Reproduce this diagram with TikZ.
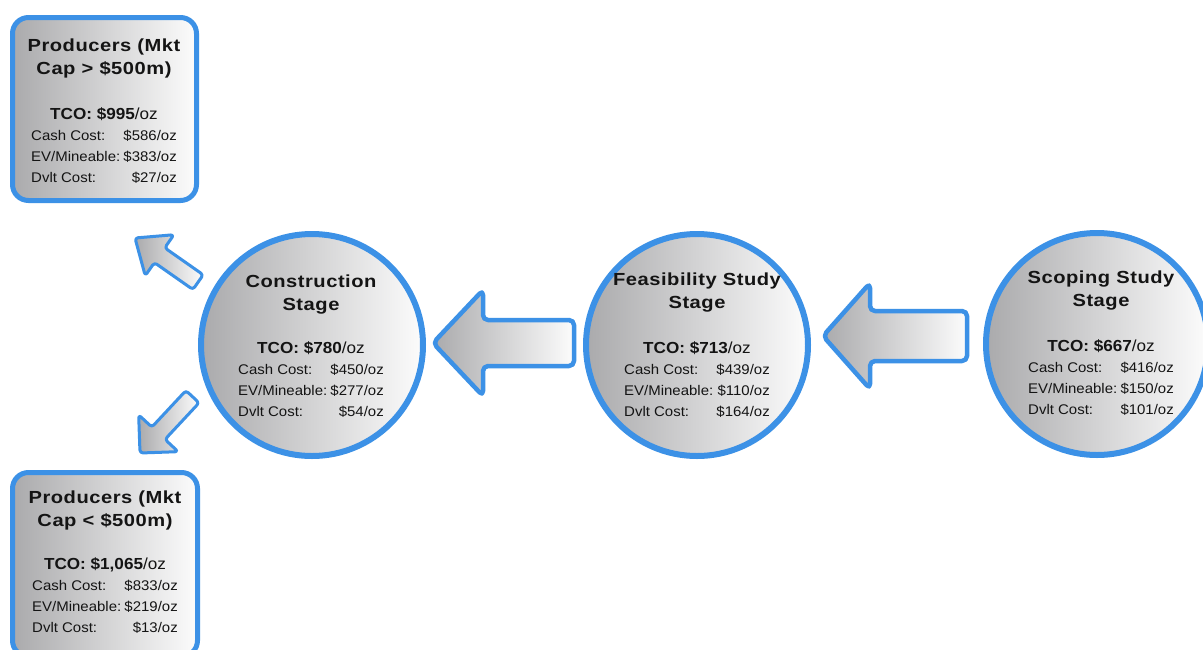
\documentclass[tikz,border=0pt]{standalone}
\usepackage{fontspec}
\setmainfont{Liberation Sans}
\newfontfamily\titlef{Liberation Sans}[FakeStretch=1.15,LetterSpace=3]
\newfontfamily\bodyf{Liberation Sans}[FakeStretch=1.07]
\usetikzlibrary{calc}
\definecolor{ringblue}{RGB}{60,145,230}
\definecolor{shadeL}{RGB}{170,170,172}
\definecolor{shadeR}{RGB}{252,252,252}
\definecolor{txt}{RGB}{20,20,20}
\tikzset{
  fillshade/.style={left color=shadeL, right color=shadeR},
  stagecircle/.style={circle, draw=ringblue, line width=6pt, fillshade, minimum size=222pt, inner sep=0pt},
  infobox/.style={rectangle, draw=ringblue, line width=5pt, fillshade, rounded corners=16pt, inner sep=0pt},
  blockarrow/.style={draw=ringblue, line width=4.5pt, fillshade, rounded corners=5pt, line join=round},
  smallarrow/.style={blockarrow, line width=3pt, rounded corners=3pt},
  ttl/.style={inner sep=0pt, text=txt, font=\titlef\bfseries\fontsize{17.5}{21}\selectfont},
  tco/.style={inner sep=0pt, text=txt, font=\bodyf\bfseries\fontsize{16}{19}\selectfont},
  body/.style={inner sep=0pt, text=txt, font=\bodyf\fontsize{14}{17}\selectfont},
  pics/fatarrow/.style args={#1/#2/#3/#4/#5}{code={
    \path[#5] (0,0) -- (#2,#3) -- (#2,#4) -- (#1,#4) -- (#1,-#4) -- (#2,-#4) -- (#2,-#3) -- cycle;}},
}
\newcommand\titlelines[5]{%
  \node[ttl, anchor=base] (#1-t1) at (#2, #3+6) {#4};
  \node[ttl, anchor=base] (#1-t2) at (#2, #3+29) {#5};}
\newcommand\costlines[7]{%
  \node[tco, anchor=base] (#1-tco) at (#2, #3+6) {TCO: \$#4\mdseries/oz};
  \node[body, anchor=base west] (#1-l1) at (#2-73, #3+27) {Cash Cost:};
  \node[body, anchor=base east] (#1-v1) at (#2+73, #3+27) {\$#5/oz};
  \node[body, anchor=base west] (#1-l2) at (#2-73, #3+48) {EV/Mineable:};
  \node[body, anchor=base east] (#1-v2) at (#2+73, #3+48) {\$#6/oz};
  \node[body, anchor=base west] (#1-l3) at (#2-73, #3+69) {Dvlt Cost:};
  \node[body, anchor=base east] (#1-v3) at (#2+73, #3+69) {\$#7/oz};}
\begin{document}
\begin{tikzpicture}[x=1pt,y=-1pt]
\useasboundingbox (0,0) rectangle (1203,649);
\clip (0,0) rectangle (1203,649);
\fill[white] (0,0) rectangle (1203,649);

% info boxes
\node[infobox, minimum width=184pt, minimum height=183pt] (hi) at (104.5,109) {};
\node[infobox, minimum width=185pt, minimum height=184pt] (lo) at (105,564.5) {};

% stage circles
\node[stagecircle] (cons) at (312,345) {};
\node[stagecircle] (feas) at (697,345) {};
\node[stagecircle] (scop) at (1097,344) {};

% block arrows
\pic at (433,343) {fatarrow={141/50/53/23/blockarrow}};
\pic at (823,336) {fatarrow={144/47/53/25/blockarrow}};
\pic[rotate=-35] at (135,238) {fatarrow={77/30/25/9/smallarrow}};
\pic[rotate=47] at (140,453) {fatarrow={77/27/27/9/smallarrow}};

% texts
\titlelines{hi}{104}{45}{Producers (Mkt}{Cap > \$500m)}
\costlines{hi}{104}{113}{995}{586}{383}{27}
\titlelines{lo}{105}{497}{Producers (Mkt}{Cap < \$500m)}
\costlines{lo}{105}{563}{1,065}{833}{219}{13}
\titlelines{cons}{311}{281}{Construction}{Stage}
\costlines{cons}{311}{347}{780}{450}{277}{54}
\titlelines{feas}{697}{279}{Feasibility Study}{Stage}
\costlines{feas}{697}{347}{713}{439}{110}{164}
\titlelines{scop}{1101}{277}{Scoping Study}{Stage}
\costlines{scop}{1101}{345}{667}{416}{150}{101}
\end{tikzpicture}
\end{document}
